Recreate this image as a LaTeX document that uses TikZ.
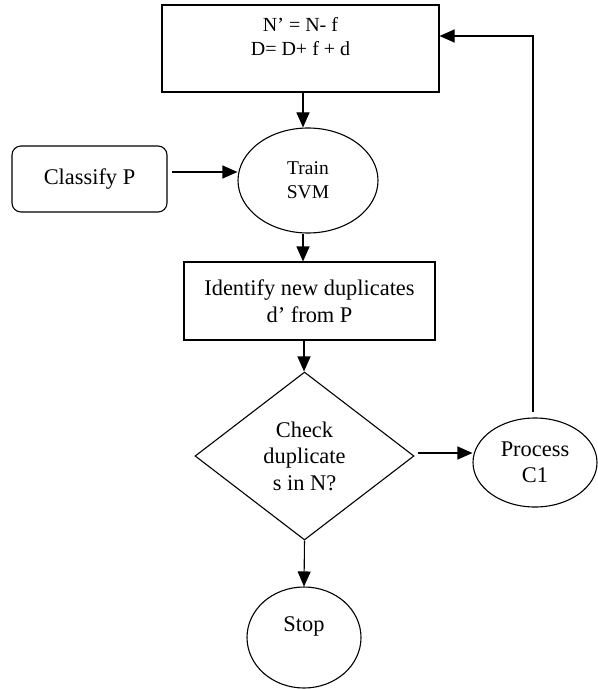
\documentclass[tikz,border=0pt]{standalone}
\usepackage{fontspec}
\setmainfont{Liberation Serif}
\usetikzlibrary{shapes.geometric,arrows.meta}
\begin{document}
\begin{tikzpicture}[x=1pt,y=-1pt,
  every node/.style={inner sep=0pt, align=center},
  ln/.style={line width=1.1pt},
  arr/.style={ln, -{Triangle[length=15pt,width=13pt]}},
  boxs/.style={draw, line width=1.1pt, rectangle},
  ell/.style={draw, line width=1.1pt, ellipse},
  big/.style={font=\fontsize{22.4}{26.5}\selectfont},
]
\useasboundingbox (0,0) rectangle (597,690);
% nodes
\node[boxs, minimum width=277pt, minimum height=87pt] (top) at (300.5,48.5) {};
\node[font=\fontsize{20}{24}\selectfont] (toptext) at (300.5,37) {N’ = N- f\\D= D+ f + d};
\node[boxs, rounded corners=9pt, minimum width=155pt, minimum height=66pt, big] (classify) at (89.5,179) {Classify P};
\node[ell, minimum width=140pt, minimum height=105pt, font=\fontsize{19.5}{24}\selectfont] (train) at (308,180.5) {Train\\SVM};
\node[boxs, minimum width=251pt, minimum height=78pt, big] (identify) at (309.5,301) {Identify new duplicates\\d’ from P};
\node[draw, line width=1.1pt, diamond, aspect=1.3, minimum width=219pt, minimum height=168pt, big] (check) at (304.5,456) {Check\\duplicate\\s in N?};
\node[ell, minimum width=124pt, minimum height=89pt, big] (process) at (535,462.5) {Process\\C1};
\node[ell, minimum width=114pt, minimum height=101pt] (stop) at (304,637.5) {};
\node[big] (stoptext) at (304,626) {Stop};
% connectors
\draw[arr] ([xshift=2.5pt]top.south) -- ([xshift=2.5pt]top.south |- train.north);
\draw[arr, shorten <=4pt] ([yshift=7pt]classify.east) -- ([yshift=7pt]classify.east -| train.west);
\draw[arr] ([xshift=-5pt]train.south) -- ([xshift=-5pt]train.south |- identify.north);
\draw[arr] ([xshift=-5.5pt]identify.south) -- ([xshift=-5.5pt]identify.south |- check.north);
\draw[arr, shorten <=3pt] ([yshift=3pt]check.east) -- ([yshift=3pt]check.east -| process.west);
\draw[arr] (check.south) -- (stop.north);
\draw[arr] ([xshift=-2pt,yshift=5pt]process.north) |- ([yshift=12.5pt]top.east);
\end{tikzpicture}
\end{document}
